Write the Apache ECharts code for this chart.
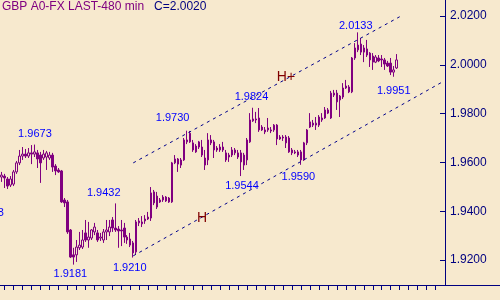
<!DOCTYPE html>
<html><head><meta charset="utf-8">
<script src="https://cdn.jsdelivr.net/npm/echarts@6/dist/echarts.min.js"></script>
<style>html,body{margin:0;padding:0;background:#F7E9CE}#c{width:500px;height:300px}</style>
</head><body><div id="c"></div>
<script>
const opens = [
1.9540,1.9544,1.9532,1.9507,1.9511,1.9561,1.9598,1.9626,1.9634,1.9626,
1.9639,1.9634,1.9639,1.9630,1.9618,1.9622,1.9618,1.9630,1.9585,1.9569,
1.9565,1.9446,1.9438,1.9323,1.9221,1.9221,1.9250,1.9253,1.9311,1.9282,
1.9290,1.9315,1.9311,1.9290,1.9282,1.9315,1.9315,1.9364,1.9331,1.9327,
1.9323,1.9331,1.9294,1.9286,1.9270,1.9233,1.9352,1.9348,1.9360,1.9368,
1.9372,1.9479,1.9462,1.9446,1.9446,1.9458,1.9454,1.9438,1.9598,1.9614,
1.9610,1.9610,1.9684,1.9684,1.9680,1.9667,1.9663,1.9663,1.9618,1.9610,
1.9692,1.9684,1.9659,1.9651,1.9663,1.9639,1.9622,1.9630,1.9639,1.9639,
1.9639,1.9630,1.9610,1.9684,1.9770,1.9778,1.9782,1.9745,1.9733,1.9733,
1.9733,1.9733,1.9753,1.9704,1.9704,1.9704,1.9700,1.9651,1.9643,1.9643,
1.9643,1.9610,1.9680,1.9745,1.9761,1.9753,1.9753,1.9774,1.9782,1.9802,
1.9782,1.9876,1.9884,1.9856,1.9868,1.9905,1.9909,1.9889,2.0028,2.0061,
2.0085,2.0069,2.0065,2.0048,2.0036,2.0011,2.0028,2.0024,2.0020,2.0007,
2.0007,1.9970,1.9987];
const closes = [
1.9548,1.9536,1.9503,1.9532,1.9561,1.9598,1.9626,1.9634,1.9626,1.9639,
1.9634,1.9643,1.9614,1.9598,1.9634,1.9639,1.9630,1.9581,1.9565,1.9561,
1.9438,1.9434,1.9315,1.9212,1.9212,1.9253,1.9261,1.9282,1.9282,1.9294,
1.9323,1.9335,1.9282,1.9294,1.9315,1.9323,1.9335,1.9331,1.9323,1.9319,
1.9319,1.9294,1.9282,1.9261,1.9229,1.9356,1.9360,1.9356,1.9368,1.9376,
1.9475,1.9434,1.9417,1.9438,1.9458,1.9442,1.9438,1.9598,1.9614,1.9593,
1.9589,1.9692,1.9692,1.9720,1.9651,1.9643,1.9684,1.9630,1.9589,1.9692,
1.9680,1.9651,1.9651,1.9663,1.9651,1.9610,1.9630,1.9651,1.9651,1.9622,
1.9602,1.9589,1.9692,1.9774,1.9778,1.9774,1.9733,1.9733,1.9725,1.9741,
1.9729,1.9753,1.9696,1.9696,1.9700,1.9680,1.9643,1.9639,1.9639,1.9630,
1.9610,1.9680,1.9733,1.9766,1.9753,1.9761,1.9786,1.9782,1.9815,1.9815,
1.9884,1.9884,1.9848,1.9872,1.9905,1.9913,1.9889,2.0028,2.0069,2.0081,
2.0052,2.0052,2.0040,2.0020,2.0011,2.0032,2.0016,2.0020,2.0003,1.9995,
1.9970,1.9979,2.0020];
const lows = [
1.9520,1.9495,1.9491,1.9499,1.9503,1.9553,1.9589,1.9610,1.9618,1.9618,
1.9593,1.9622,1.9577,1.9516,1.9610,1.9569,1.9610,1.9561,1.9548,1.9557,
1.9434,1.9417,1.9307,1.9208,1.9181,1.9192,1.9241,1.9245,1.9274,1.9250,
1.9282,1.9302,1.9274,1.9278,1.9270,1.9282,1.9298,1.9315,1.9315,1.9250,
1.9257,1.9270,1.9266,1.9253,1.9210,1.9221,1.9339,1.9335,1.9348,1.9364,
1.9360,1.9425,1.9409,1.9434,1.9438,1.9438,1.9434,1.9434,1.9593,1.9561,
1.9577,1.9606,1.9675,1.9680,1.9643,1.9639,1.9655,1.9622,1.9569,1.9589,
1.9671,1.9618,1.9643,1.9643,1.9643,1.9602,1.9602,1.9622,1.9630,1.9614,
1.9544,1.9569,1.9589,1.9680,1.9766,1.9761,1.9725,1.9729,1.9716,1.9725,
1.9720,1.9725,1.9671,1.9692,1.9688,1.9659,1.9639,1.9630,1.9634,1.9622,
1.9590,1.9606,1.9671,1.9741,1.9745,1.9733,1.9745,1.9766,1.9778,1.9798,
1.9778,1.9868,1.9815,1.9786,1.9860,1.9901,1.9884,1.9884,2.0020,2.0052,
2.0040,2.0011,2.0032,1.9991,1.9979,2.0007,2.0011,1.9991,1.9979,1.9991,
1.9958,1.9951,1.9983];
const highs = [
1.9561,1.9553,1.9540,1.9544,1.9569,1.9606,1.9651,1.9663,1.9655,1.9659,
1.9671,1.9673,1.9651,1.9643,1.9651,1.9647,1.9643,1.9639,1.9593,1.9577,
1.9569,1.9454,1.9446,1.9327,1.9250,1.9282,1.9315,1.9323,1.9364,1.9356,
1.9327,1.9352,1.9323,1.9311,1.9327,1.9364,1.9364,1.9376,1.9432,1.9339,
1.9364,1.9352,1.9302,1.9311,1.9278,1.9364,1.9372,1.9380,1.9384,1.9397,
1.9499,1.9487,1.9479,1.9454,1.9466,1.9462,1.9458,1.9602,1.9630,1.9618,
1.9618,1.9700,1.9730,1.9729,1.9692,1.9675,1.9688,1.9692,1.9651,1.9720,
1.9712,1.9692,1.9667,1.9675,1.9684,1.9651,1.9639,1.9663,1.9659,1.9651,
1.9651,1.9639,1.9700,1.9802,1.9824,1.9807,1.9823,1.9753,1.9745,1.9782,
1.9745,1.9757,1.9757,1.9712,1.9712,1.9712,1.9708,1.9659,1.9651,1.9651,
1.9651,1.9684,1.9737,1.9802,1.9774,1.9786,1.9794,1.9802,1.9827,1.9823,
1.9893,1.9897,1.9897,1.9876,1.9925,1.9938,1.9917,2.0032,2.0089,2.0133,
2.0110,2.0081,2.0102,2.0052,2.0048,2.0040,2.0040,2.0040,2.0028,2.0016,
2.0028,1.9995,2.0044];

// future (empty) periods to the right of the last bar
const emptySlots = 34;
const categories = opens.map((_, i) => 'P' + (i + 1))
  .concat(Array.from({length: emptySlots}, (_, i) => 'F' + (i + 1)));

const yTicks = [1.92, 1.94, 1.96, 1.98, 2.00, 2.02];

// annotated swing highs / lows: bar index and price
const noteIdx = [0, 11, 24, 38, 44, 62, 80, 84, 100, 119, 131];
const noteVal = [1.9443, 1.9673, 1.9181, 1.9432, 1.9210, 1.9730, 1.9544, 1.9824, 1.9590, 2.0133, 1.9951];

// pattern marks
const patText = ['H', 'H+'];
const patIdx = [67, 95];
const patVal = [1.9370, 1.9950];

// channel lines: [startIndex, startPrice, endIndex, endPrice]
const channelUpper = [44, 1.9598, 133, 2.0197];
const channelLower = [44, 1.9217, 147, 1.9928];

const title = 'GBP A0-FX LAST-480 min';

// ---- styling ----
const noteShift = [[-14.5, 12.3], [0.5, -10.6], [-3, 9.3], [-11.5, -10.4], [-3.5, 10.4], [-14.5, -13.2],
  [1, 10], [-1.5, -10.75], [-2.5, 12], [-2, -6.3], [0, 14.7]];

const candleData = opens.map((o, i) => [o, closes[i], lows[i], highs[i]]);

const markPoints = noteIdx.map((idx, k) => ({
  coord: [idx, noteVal[k]],
  value: noteVal[k],
  label: {show: true, position: 'inside', offset: noteShift[k], formatter: noteVal[k].toFixed(4),
    color: '#0000FF', fontSize: 11, fontFamily: 'Liberation Sans'}
})).concat(patIdx.map((idx, k) => ({
  coord: [idx, patVal[k]],
  value: patVal[k],
  label: {show: true, position: 'inside', offset: [0, 0], formatter: patText[k],
    color: '#800000', fontSize: 14, fontFamily: 'Liberation Sans', fontWeight: 'normal'}
})));

const chart = echarts.init(document.getElementById('c'), null, {renderer: 'canvas'});
chart.setOption({
  animation: false,
  backgroundColor: '#F7E9CE',
  textStyle: {fontFamily: 'Liberation Sans'},
  title: {
    text: '{a|' + title + '}   {b|C=' + closes[closes.length - 1].toFixed(4) + '}',
    left: 2, top: 1, padding: 0,
    textStyle: {fontSize: 12, fontWeight: 'normal', fontFamily: 'Liberation Sans',
      rich: {
        a: {color: '#800080', fontSize: 12, fontFamily: 'Liberation Sans'},
        b: {color: '#000080', fontSize: 12, fontFamily: 'Liberation Sans'}
      }}
  },
  grid: {left: 0, right: -1, top: 0, bottom: 15},
  xAxis: {
    type: 'category', data: categories, boundaryGap: true,
    axisLine: {show: true, lineStyle: {color: '#000080', width: 1}},
    axisTick: {show: true, alignWithLabel: true, length: 5,
      interval: (i) => i % 3 === 1 && i <= 145, lineStyle: {color: '#000080'}},
    axisLabel: {show: false}, splitLine: {show: false}
  },
  yAxis: {
    type: 'value', position: 'right', offset: -55,
    min: 1.90975, max: 2.02656,
    axisLine: {show: true, lineStyle: {color: '#000080', width: 1}},
    axisTick: {show: true, inside: true, length: 5, customValues: yTicks, lineStyle: {color: '#000080'}},
    axisLabel: {show: true, customValues: yTicks, formatter: (v) => v.toFixed(4),
      color: '#000080', fontSize: 12, margin: 5, fontFamily: 'Liberation Sans'},
    splitLine: {show: false}
  },
  series: [{
    type: 'candlestick',
    data: candleData,
    barWidth: 2,
    itemStyle: {color: 'transparent', color0: '#800080', borderColor: '#800080', borderColor0: '#800080', borderWidth: 1},
    markLine: {
      silent: true, symbol: ['none', 'none'], label: {show: false},
      lineStyle: {type: [3, 4], width: 1, color: '#00008B'},
      data: [
        [{coord: [channelUpper[0], channelUpper[1]]}, {coord: [channelUpper[2], channelUpper[3]]}],
        [{coord: [channelLower[0], channelLower[1]]}, {coord: [channelLower[2], channelLower[3]]}]
      ]
    },
    markPoint: {
      silent: true, symbol: 'circle', symbolSize: 1,
      itemStyle: {color: 'rgba(0,0,0,0)'},
      data: markPoints
    }
  }]
});
</script>
</body></html>
